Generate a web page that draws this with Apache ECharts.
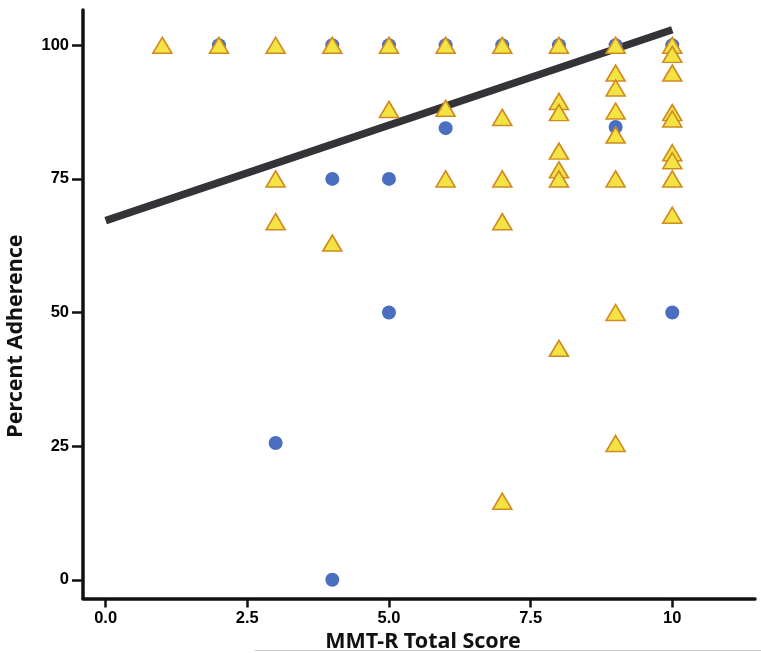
<!DOCTYPE html>
<html>
<head>
<meta charset="utf-8">
<script src="https://cdn.jsdelivr.net/npm/echarts@6/dist/echarts.min.js"></script>
<style>
html,body{margin:0;padding:0;background:#fff;}
#chart{width:761px;height:653px;}
</style>
</head>
<body>
<div id="chart"></div>
<script>
// Blue circles (group 1)
var circleX = [2, 4, 5, 6, 7, 8, 9, 10, 3, 4, 4, 5, 5, 6, 9, 10];
var circleY = [100, 100, 100, 100, 100, 100, 100, 100, 25.6, 75, 0, 75, 50, 84.5, 84.7, 50];

// Yellow triangles (group 2)
var triangleX = [1, 2, 3, 4, 5, 6, 7, 8, 9, 10,
  3, 3,
  4,
  5,
  6, 6,
  7, 7, 7, 7,
  8, 8, 8, 8, 8, 8,
  9, 9, 9, 9, 9, 9, 9,
  10, 10, 10, 10, 10, 10, 10, 10];
var triangleY = [100, 100, 100, 100, 100, 100, 100, 100, 100, 100,
  75, 67,
  63,
  88,
  88.2, 75,
  86.5, 75, 67, 14.7,
  89.5, 87.4, 80.2, 76.7, 75, 43.3,
  94.8, 92, 87.7, 83.2, 75, 50, 25.5,
  98.3, 94.8, 87.4, 86.2, 79.9, 78.4, 75, 68.2];

// Fitted regression line end points
var fitX = [0, 10];
var fitY = [67.2, 102.9];

// Tick values and labels
var xTicks = [0, 2.5, 5, 7.5, 10];
var xTickLabels = ['0.0', '2.5', '5.0', '7.5', '10'];
var yTicks = [0, 25, 50, 75, 100];
var yTickLabels = ['0', '25', '50', '75', '100'];

var xTitle = 'MMT-R Total Score';
var yTitle = 'Percent Adherence';

function zip(a, b) { return a.map(function (v, i) { return [v, b[i]]; }); }

var chart = echarts.init(document.getElementById('chart'), null, {renderer: 'canvas'});
var tickFont = 'Liberation Sans';

chart.setOption({
  animation: false,
  backgroundColor: '#ffffff',
  grid: {left: 83, right: 6, top: 10, bottom: 54.5, containLabel: false},
  xAxis: {
    type: 'value',
    min: -0.4, max: 11.46,
    axisLine: {show: true, onZero: false, lineStyle: {color: '#111', width: 3.5}},
    axisTick: {show: true, length: 9, customValues: xTicks, lineStyle: {color: '#111', width: 2.5}},
    axisLabel: {
      show: true, customValues: xTicks, margin: 11,
      fontFamily: tickFont, fontWeight: 'bold', fontSize: 16.5, color: '#000',
      formatter: function (v) { var i = xTicks.indexOf(v); return i >= 0 ? xTickLabels[i] : ''; }
    },
    splitLine: {show: false}
  },
  yAxis: {
    type: 'value',
    min: -3.5, max: 106.6,
    axisLine: {show: true, onZero: false, lineStyle: {color: '#111', width: 3.5}},
    axisTick: {show: true, length: 11, customValues: yTicks, lineStyle: {color: '#111', width: 2.5}},
    axisLabel: {
      show: true, customValues: yTicks, margin: 14,
      fontFamily: tickFont, fontWeight: 'bold', fontSize: 16.5, color: '#000',
      formatter: function (v) { var i = yTicks.indexOf(v); return i >= 0 ? yTickLabels[i] : ''; }
    },
    splitLine: {show: false}
  },
  series: [
    {
      type: 'line',
      data: zip(fitX, fitY),
      symbol: 'none',
      z: 1,
      lineStyle: {color: '#333338', width: 7.5, cap: 'butt'}
    },
    {
      type: 'scatter',
      data: zip(circleX, circleY),
      symbol: 'circle',
      symbolSize: 14,
      z: 2,
      itemStyle: {color: '#4a6fc0', opacity: 1}
    },
    {
      type: 'scatter',
      data: zip(triangleX, triangleY),
      symbol: 'triangle',
      symbolSize: [19, 16],
      z: 3,
      itemStyle: {color: '#f3e444', borderColor: '#d08a22', borderWidth: 1.6, opacity: 1}
    }
  ],
  graphic: [
    {
      type: 'text', x: 423, y: 642,
      style: {text: xTitle, font: 'bold 21.5px "Noto Sans"', fill: '#111',
        align: 'center', verticalAlign: 'middle', textAlign: 'center', textVerticalAlign: 'middle'}
    },
    {
      type: 'text', x: 16, y: 336, rotation: Math.PI / 2,
      style: {text: yTitle, font: 'bold 21.5px "Noto Sans"', fill: '#111',
        align: 'center', verticalAlign: 'middle', textAlign: 'center', textVerticalAlign: 'middle'}
    },
    {
      type: 'line',
      shape: {x1: 255, y1: 650.5, x2: 761, y2: 650.5},
      style: {stroke: '#c8c8c8', lineWidth: 1}
    }
  ]
});
</script>
</body>
</html>
